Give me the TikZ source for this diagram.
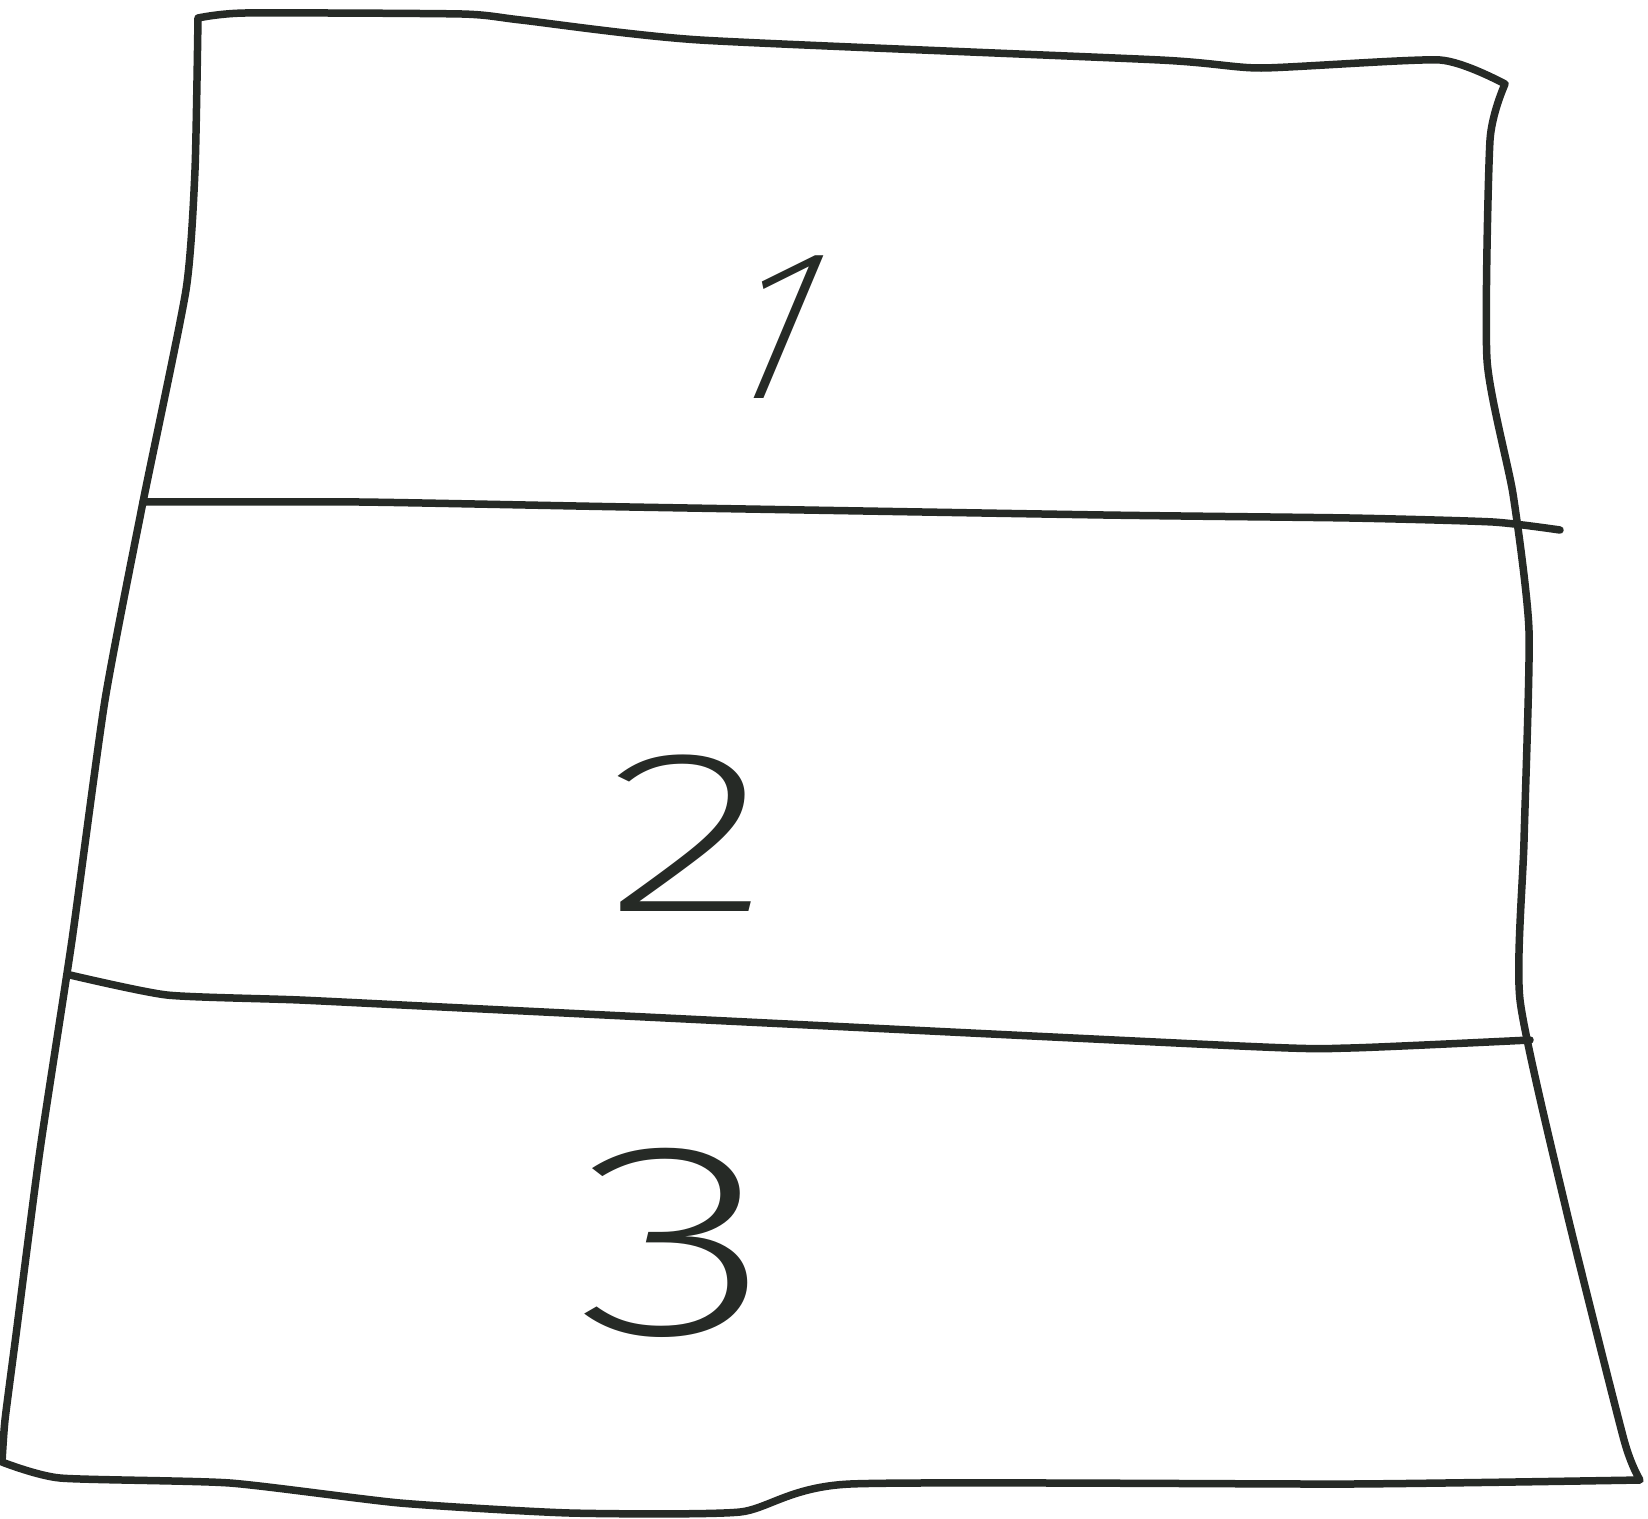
\documentclass[tikz,border=0pt]{standalone}
\usepackage{fontspec}
\newfontfamily\digitfont{Fira Sans ExtraLight}
\definecolor{ink}{RGB}{38,42,38}
\begin{document}
\begin{tikzpicture}[x=1pt,y=-1pt,
  pen/.style={draw=ink,line width=7.5pt,line join=round,line cap=round},
  digit/.style={inner sep=0pt,text=ink}]
\useasboundingbox[fill=white] (0,0) rectangle (1648,1518);
% outline
\draw[pen] plot[smooth,tension=0.35] coordinates {(198,18) (245,13) (462,14) (521,20) (700,40) (1160,60) (1261,68) (1440,60) (1505,84)}
  -- plot[smooth,tension=0.35] coordinates {(1505,84) (1490,140) (1487,360) (1513,494) (1529,631) (1524,841) (1520,1000) (1566,1209) (1624,1440) (1640,1480)}
  -- plot[smooth,tension=0.35] coordinates {(1640,1480) (1350,1484) (850,1484) (740,1512) (570,1513) (400,1503) (230,1483) (60,1478) (2,1462)}
  -- plot[smooth,tension=0.35] coordinates {(2,1462) (5,1420) (16,1335) (40,1150) (72,940) (105,700) (143,502) (186,290) (195,170) (198,18)};
% dividers
\draw[pen] plot[smooth,tension=0.35] coordinates {(143,502) (360,502) (630,507) (1104,515) (1350,518) (1493,522) (1560,530)};
\draw[pen] plot[smooth,tension=0.35] coordinates {(70,975) (167,995) (300,1000) (483,1009) (1240,1046) (1350,1048) (1530,1040)};
% labels
\node[digit,font=\digitfont\fontsize{215}{215}\selectfont,xslant=0.42,transform shape] (n1) at (777,327) {1};
\node[digit,font=\digitfont\fontsize{232}{232}\selectfont,xscale=1.5,transform shape] (n2) at (688,833) {2};
\node[digit,font=\digitfont\fontsize{276}{276}\selectfont,xscale=1.5,transform shape] (n3) at (675,1243) {3};
\end{tikzpicture}
\end{document}
